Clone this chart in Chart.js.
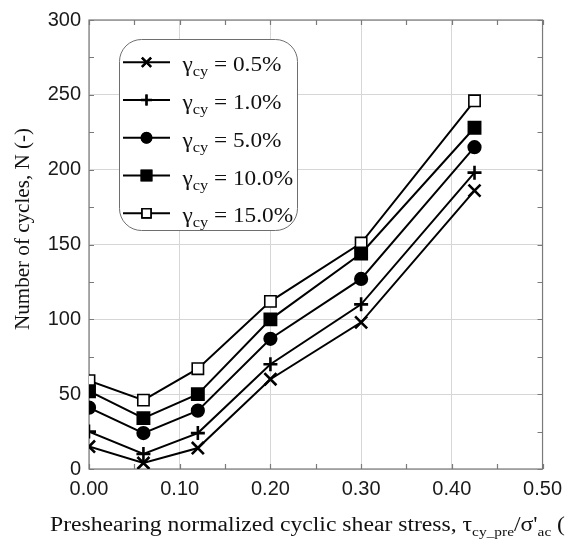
<!DOCTYPE html>
<html>
<head>
<meta charset="utf-8">
<script src="https://cdn.jsdelivr.net/npm/chart.js@4/dist/chart.umd.min.js"></script>
<style>
    html, body { margin: 0; padding: 0; background: #fff; }
    #contenedor { width: 570px; height: 551px; position: relative; }
</style>
</head>
<body>
<div id="contenedor"><canvas id="graficoCiclos"></canvas></div>
<script>
// datos
const esfuerzoX = [0.00, 0.06, 0.12, 0.20, 0.30, 0.425];
const gammaLabels = ['0.5%', '1.0%', '5.0%', '10.0%', '15.0%'];
const ciclos05 = [15, 4, 14, 60, 98, 186];
const ciclos10 = [25, 10, 24, 70, 110, 198];
const ciclos50 = [41, 24, 39, 87, 127, 215];
const ciclos100 = [52, 34, 50, 100, 144, 228];
const ciclos150 = [59, 46, 67, 112, 151, 246];
const xMajor = [0, 0.1, 0.2, 0.3, 0.4, 0.5];
const yMajor = [0, 50, 100, 150, 200, 250, 300];

const series = [ciclos05, ciclos10, ciclos50, ciclos100, ciclos150];
const marcadores = [
    { style: 'crossRot', radius: 8.5, fill: '#000', legendRadius: 6.5 },
    { style: 'cross', radius: 7, fill: '#000', legendRadius: 5.5 },
    { style: 'circle', radius: 5.8, fill: '#000', legendRadius: 4.8 },
    { style: 'rect', radius: 8, fill: '#000', legendRadius: 6.8 },
    { style: 'rect', radius: 8, fill: '#fff', legendRadius: 6.2 }
];

const SERIF = '"Liberation Serif", "Times New Roman", serif';

const datasets = series.map((valores, i) => ({
    label: gammaLabels[i],
    data: esfuerzoX.map((x, j) => ({ x: x, y: valores[j] })),
    borderColor: '#000',
    borderWidth: 2,
    pointStyle: marcadores[i].style,
    pointRadius: marcadores[i].radius,
    pointBackgroundColor: marcadores[i].fill,
    pointBorderColor: '#000',
    pointBorderWidth: i === 4 ? 1.6 : 2.6,
    tension: 0
}));

const isMajor = (v, arr) => arr.some(m => Math.abs(m - v) < 1e-9);

// texto con subindices, devuelve el ancho
function textoCompuesto(ctx, partes, dibujar) {
    let cx = 0;
    partes.forEach(([txt, size, dy]) => {
        ctx.font = size + 'px ' + SERIF;
        if (dibujar) ctx.fillText(txt, cx, dy);
        cx += ctx.measureText(txt).width;
    });
    return cx;
}

// marco, ticks hacia adentro, titulos y leyenda
const decoracion = {
    id: 'decoracion',
    beforeDatasetsDraw(chart) {
        const { ctx, chartArea: a, scales: { x, y } } = chart;
        ctx.save();
        ctx.strokeStyle = '#7a7a7a';
        ctx.lineWidth = 1.2;
        ctx.strokeRect(a.left, a.top, a.right - a.left, a.bottom - a.top);
        ctx.beginPath();
        x.ticks.forEach(t => {
            const px = Math.round(x.getPixelForValue(t.value)) + 0.5;
            ctx.moveTo(px, a.bottom); ctx.lineTo(px, a.bottom - 5);
            ctx.moveTo(px, a.top); ctx.lineTo(px, a.top + 5);
        });
        y.ticks.forEach(t => {
            const py = Math.round(y.getPixelForValue(t.value)) + 0.5;
            ctx.moveTo(a.left, py); ctx.lineTo(a.left + 5, py);
            ctx.moveTo(a.right, py); ctx.lineTo(a.right - 5, py);
        });
        ctx.stroke();
        ctx.restore();
    },
    afterDraw(chart) {
        const { ctx } = chart;
        ctx.save();
        ctx.fillStyle = '#111';
        ctx.textBaseline = 'alphabetic';

        // titulo eje y
        ctx.save();
        ctx.translate(23, 229);
        ctx.rotate(-Math.PI / 2);
        ctx.font = '21px ' + SERIF;
        const anchoY = ctx.measureText('Number of cycles, N (-)').width;
        ctx.scale(202 / anchoY, 1);
        ctx.textAlign = 'center';
        ctx.textBaseline = 'middle';
        ctx.fillText('Number of cycles, N (-)', 0, 0);
        ctx.restore();

        // titulo eje x (con subindices)
        const tituloX = [
            ['Preshearing normalized cyclic shear stress, ', 20, 0],
            ['\u03C4', 20, 0],
            ['cy_pre', 13, 5],
            ['/\u03C3\'', 20, 0],
            ['ac', 13, 5],
            [' (', 20, 0]
        ];
        ctx.save();
        const anchoX = textoCompuesto(ctx, tituloX, false);
        ctx.translate(50, 531);
        ctx.scale(515 / anchoX, 1);
        textoCompuesto(ctx, tituloX, true);
        ctx.restore();

        // leyenda
        const caja = { l: 119, t: 39, r: 297, b: 230, rad: 22 };
        ctx.beginPath();
        ctx.roundRect(caja.l + 0.5, caja.t + 0.5, caja.r - caja.l, caja.b - caja.t, caja.rad);
        ctx.fillStyle = '#fff';
        ctx.fill();
        ctx.strokeStyle = '#6e6e6e';
        ctx.lineWidth = 1;
        ctx.stroke();

        const partesLeyenda = lab => [['\u03B3', 20, 0], ['cy', 14, 5], [' = ' + lab, 20, 0]];
        const escalaLeyenda = 99 / textoCompuesto(ctx, partesLeyenda(gammaLabels[0]), false);

        chart.data.datasets.forEach((ds, i) => {
            const fy = 62.3 + i * 37.75;
            ctx.beginPath();
            ctx.strokeStyle = '#000';
            ctx.lineWidth = 2;
            ctx.moveTo(123, fy);
            ctx.lineTo(170, fy);
            ctx.stroke();
            Chart.helpers.drawPoint(ctx, {
                pointStyle: marcadores[i].style,
                radius: marcadores[i].legendRadius,
                borderWidth: i === 4 ? 1.4 : 2.4,
                rotation: 0
            }, 146.5, fy);
            ctx.fillStyle = marcadores[i].fill;
            ctx.strokeStyle = '#000';
            ctx.lineWidth = i === 4 ? 1.4 : 2.4;
            if (marcadores[i].style === 'circle' || marcadores[i].style === 'rect') ctx.fill();
            ctx.stroke();

            ctx.save();
            ctx.fillStyle = '#111';
            ctx.translate(182.5, fy + 9);
            ctx.scale(escalaLeyenda, 1);
            textoCompuesto(ctx, partesLeyenda(ds.label), true);
            ctx.restore();
        });
        ctx.restore();
    }
};

new Chart(document.getElementById('graficoCiclos'), {
    type: 'line',
    data: { datasets: datasets },
    options: {
        responsive: true,
        maintainAspectRatio: false,
        animation: false,
        layout: { padding: { top: 15, right: 25, left: 0, bottom: 0 } },
        plugins: { legend: { display: false }, tooltip: { enabled: false } },
        scales: {
            x: {
                type: 'linear',
                min: 0,
                max: 0.5,
                ticks: {
                    stepSize: 0.05,
                    padding: 8,
                    color: '#1a1a1a',
                    font: { family: '"Liberation Sans", Arial, sans-serif', size: 20 },
                    maxRotation: 0,
                    autoSkip: false,
                    callback: v => isMajor(v, xMajor) ? v.toFixed(2) : ''
                },
                grid: {
                    drawTicks: false,
                    color: c => isMajor(c.tick.value, xMajor) ? '#d6d6d6' : 'rgba(0,0,0,0)',
                    lineWidth: 1
                },
                border: { display: false },
                afterFit: s => { s.height = 82; }
            },
            y: {
                type: 'linear',
                min: 0,
                max: 300,
                ticks: {
                    stepSize: 25,
                    padding: 8,
                    color: '#1a1a1a',
                    font: { family: '"Liberation Sans", Arial, sans-serif', size: 20 },
                    autoSkip: false,
                    callback: v => isMajor(v, yMajor) ? String(v) : ''
                },
                grid: {
                    drawTicks: false,
                    color: c => isMajor(c.tick.value, yMajor) ? '#d6d6d6' : 'rgba(0,0,0,0)',
                    lineWidth: 1
                },
                border: { display: false },
                afterFit: s => { s.width = 89; }
            }
        }
    },
    plugins: [decoracion]
});
</script>
</body>
</html>
